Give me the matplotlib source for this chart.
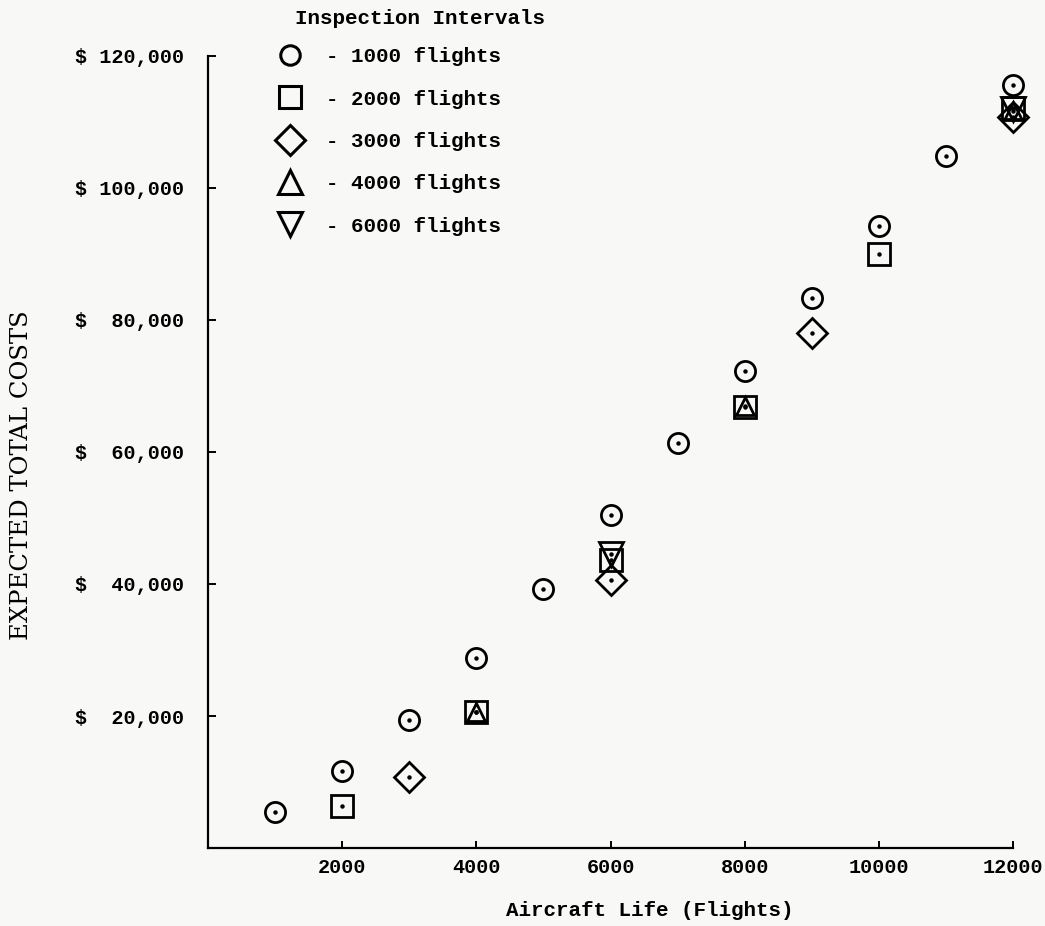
import matplotlib
matplotlib.use("Agg")
import matplotlib.pyplot as plt
from matplotlib.lines import Line2D

# ---- data ----
life_1000 = [1000, 2000, 3000, 4000, 5000, 6000, 7000, 8000, 9000, 10000, 11000, 12000]
cost_1000 = [5400, 11700, 19400, 28800, 39200, 50400, 61400, 72300, 83400, 94200, 104900, 115600]
life_2000 = [2000, 4000, 6000, 8000, 10000, 12000]
cost_2000 = [6400, 20600, 43600, 66800, 90000, 112100]
life_3000 = [3000, 6000, 9000, 12000]
cost_3000 = [10800, 40600, 78000, 110800]
life_4000 = [4000, 8000, 12000]
cost_4000 = [20600, 66900, 111700]
life_6000 = [6000, 12000]
cost_6000 = [44500, 111900]

legend_title = "Inspection Intervals"
legend_labels = ["- 1000 flights", "- 2000 flights", "- 3000 flights",
                 "- 4000 flights", "- 6000 flights"]
x_ticks = [2000, 4000, 6000, 8000, 10000, 12000]
y_ticks = [20000, 40000, 60000, 80000, 100000, 120000]
y_tick_labels = ["$  20,000", "$  40,000", "$  60,000", "$  80,000", "$ 100,000", "$ 120,000"]

MONO = "Liberation Mono"
BG = "#f8f8f6"

fig = plt.figure(figsize=(10.45, 9.26), dpi=100, facecolor=BG)
ax = fig.add_axes([208 / 1045, 1 - 848 / 926, (1013 - 208) / 1045, (848 - 56) / 926])
ax.set_facecolor(BG)

series = [
    (life_1000, cost_1000, "o", 14.5, 14.0),
    (life_2000, cost_2000, "s", 16.5, 16.5),
    (life_3000, cost_3000, "D", 15.5, 15.5),
    (life_4000, cost_4000, "^", 13.5, 17.0),
    (life_6000, cost_6000, "v", 17.5, 17.5),
]
handles = []
for (xs, ys, m, ms, lms), lab in zip(series, legend_labels):
    ax.plot(xs, ys, linestyle="none", marker=m, markersize=ms,
            markerfacecolor="none", markeredgecolor="black", markeredgewidth=2.0,
            clip_on=False, zorder=3)
    ax.plot(xs, ys, linestyle="none", marker="o", markersize=2.2,
            color="black", clip_on=False, zorder=4)
    handles.append(Line2D([], [], linestyle="none", marker=m, markersize=lms,
                          markerfacecolor="none", markeredgecolor="black",
                          markeredgewidth=2.2, label=lab))

ax.set_xlim(0, 12000)
ax.set_ylim(0, 120000)

for s in ["top", "right"]:
    ax.spines[s].set_visible(False)
for s in ["left", "bottom"]:
    ax.spines[s].set_linewidth(1.6)

ax.set_xticks(x_ticks)
ax.set_xticklabels([str(v) for v in x_ticks], fontfamily=MONO, fontweight="bold", fontsize=14.5)
ax.set_yticks(y_ticks)
ax.set_yticklabels(y_tick_labels, fontfamily=MONO, fontweight="bold", fontsize=14.5)
ax.tick_params(axis="x", direction="in", length=5, width=1.4, pad=7)
ax.tick_params(axis="y", direction="in", length=6, width=1.4, pad=17)

fig.text(650 / 1045, 1 - 910 / 926, "Aircraft Life (Flights)", fontfamily=MONO,
         fontweight="bold", fontsize=15, ha="center", va="center")
fig.text(22 / 1045, 1 - 475 / 926, "EXPECTED TOTAL COSTS", fontfamily="DejaVu Serif",
         fontsize=17.5, rotation=90, ha="center", va="center")

fig.text(295 / 1045, 1 - 19 / 926, legend_title, fontfamily=MONO,
         fontweight="bold", fontsize=15, ha="left", va="center")
leg = ax.legend(handles=handles, loc="upper left", frameon=False,
                bbox_to_anchor=(272 / 1045, 1 - 43 / 926), bbox_transform=fig.transFigure,
                prop={"family": MONO, "weight": "bold", "size": 15},
                handlelength=1.3, handletextpad=1.1, labelspacing=1.12,
                borderaxespad=0, borderpad=0.2)

fig.savefig("out.png", dpi=100, facecolor=BG)
